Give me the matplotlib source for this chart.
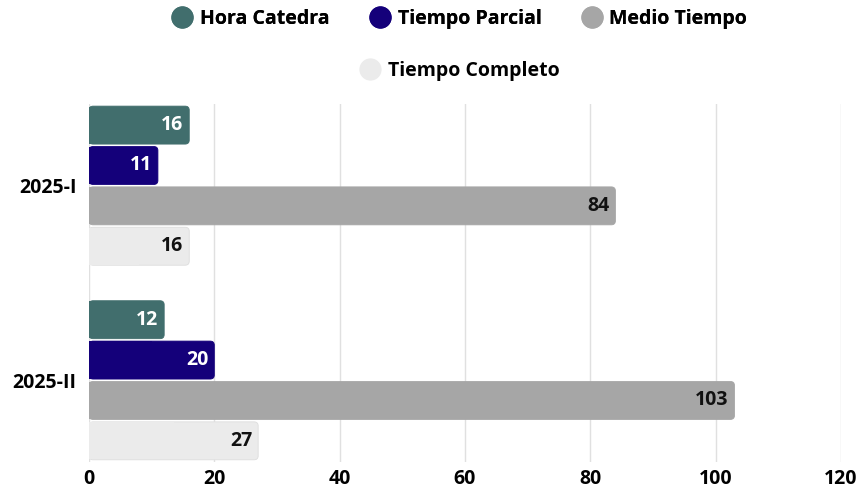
import matplotlib
matplotlib.use("Agg")
import matplotlib.pyplot as plt
from matplotlib.patches import FancyBboxPatch, Rectangle
from matplotlib.lines import Line2D

plt.rcParams['font.family'] = ['Open Sans', 'DejaVu Sans']
plt.rcParams['font.weight'] = 'bold'

# datos
periodos = ["2025-I", "2025-II"]
series = ["Hora Catedra", "Tiempo Parcial", "Medio Tiempo", "Tiempo Completo"]
hora_catedra = [16, 12]
tiempo_parcial = [11, 20]
medio_tiempo = [84, 103]
tiempo_completo = [16, 27]
valores = [hora_catedra, tiempo_parcial, medio_tiempo, tiempo_completo]

colores = ["#416e6d", "#14007a", "#a6a6a6", "#ebebeb"]
color_texto = ["white", "white", "#111111", "#111111"]

fig = plt.figure(figsize=(8.58, 4.88), dpi=100)
ax = fig.add_axes([0.1037, 0.0533, 0.8765, 0.7337])

paso = 0.2075
alto = 0.195
ax.set_xlim(0, 120)
ax.set_ylim(1.42, -0.42)

# radio de esquina en px -> unidades de datos
rx = 0.65
aspecto = (alto / 38.0 * 4.0) / rx

for j, (vals, c, tc) in enumerate(zip(valores, colores, color_texto)):
    for i, v in enumerate(vals):
        y = i + (j - 1.5) * paso
        b = ax.barh(y, v, height=alto, color=c, alpha=0)
        r = b.patches[0]
        x0, y0 = r.get_x(), r.get_y()
        w, h = r.get_width(), r.get_height()
        ec = "#dddddd" if c == "#ebebeb" else c
        ax.add_patch(FancyBboxPatch((x0, y0), w, h,
                                    boxstyle=f"round,pad=0,rounding_size={rx}",
                                    mutation_aspect=aspecto, fc=c, ec=ec, lw=0.6, zorder=3))
        ax.add_patch(Rectangle((x0, y0 + 0.002), w / 2, h - 0.004, fc=c, ec="none", zorder=3.1))
        ax.text(v - 0.9, y, str(v), ha="right", va="center", color=tc,
                fontsize=14, fontweight="bold", zorder=4)

ax.set_yticks(range(len(periodos)))
ax.set_yticklabels(periodos)
ax.set_xticks(range(0, 121, 20))
ax.tick_params(length=0, labelsize=14, pad=5)
ax.tick_params(axis="y", pad=9)
for lab in ax.get_xticklabels() + ax.get_yticklabels():
    lab.set_fontweight("bold")
ax.grid(axis="x", color="#e0e0e0", lw=1, zorder=0)
ax.set_axisbelow(True)
for s in ax.spines.values():
    s.set_visible(False)

def handle(c):
    return Line2D([], [], marker="o", ls="none", markersize=15,
                  markerfacecolor=c, markeredgecolor=c)

leg1 = fig.legend([handle(c) for c in colores[:3]], series[:3], loc="center",
                  bbox_to_anchor=(0.535, 0.961), ncol=3, frameon=False,
                  prop={"size": 14, "weight": "bold"}, handletextpad=0.3,
                  columnspacing=2.0, handlelength=1.2)
fig.add_artist(leg1)
fig.legend([handle(colores[3])], series[3:], loc="center",
           bbox_to_anchor=(0.535, 0.854), frameon=False,
           prop={"size": 14, "weight": "bold"}, handletextpad=0.3, handlelength=1.2)

fig.savefig("out.png", dpi=100)
